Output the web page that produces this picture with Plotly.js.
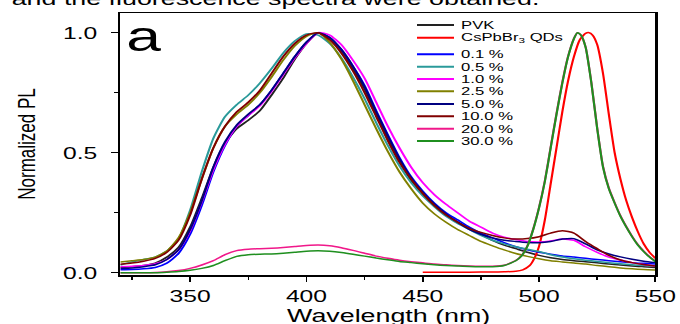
<!DOCTYPE html>
<html>
<head>
<meta charset="utf-8">
<script src="https://cdn.plot.ly/plotly-3.0.1.min.js"></script>
<style>
  html, body { margin: 0; padding: 0; background: #fff; overflow: hidden; }
  #wrap { width: 680px; height: 324px; overflow: hidden; }
  #plot { width: 469px; height: 324px; transform: scaleX(1.4499); transform-origin: 0 0; }
</style>
</head>
<body>
<div id="wrap"><div id="plot"></div></div>
<script>
// ---------------- data ----------------
const wl = [320,325,330,335,340,345,350,355,360,365,370,375,380,385,390,395,400,405,410,415,420,425,430,435,440,445,450,455,460,465,470,475,480,485,490,495,500,505,510,515,520,525,530,535,540,545,550];

const pvk   = [0.022,0.025,0.030,0.040,0.065,0.105,0.190,0.310,0.440,0.540,0.600,0.635,0.675,0.740,0.810,0.890,0.955,1.000,0.975,0.925,0.850,0.765,0.660,0.555,0.465,0.385,0.330,0.280,0.240,0.212,0.185,0.160,0.135,0.115,0.100,0.085,0.072,0.062,0.055,0.050,0.046,0.041,0.036,0.032,0.028,0.025,0.022];
const p01   = [0.012,0.013,0.016,0.022,0.040,0.080,0.160,0.280,0.420,0.530,0.610,0.655,0.700,0.760,0.830,0.900,0.960,1.000,0.980,0.930,0.860,0.780,0.675,0.575,0.480,0.400,0.340,0.290,0.250,0.220,0.190,0.165,0.145,0.125,0.108,0.095,0.085,0.077,0.070,0.065,0.060,0.055,0.050,0.046,0.042,0.039,0.036];
const p05   = [0.032,0.045,0.055,0.065,0.090,0.140,0.260,0.420,0.560,0.650,0.700,0.740,0.790,0.850,0.915,0.965,0.995,0.990,0.955,0.895,0.815,0.725,0.625,0.530,0.445,0.375,0.320,0.275,0.235,0.205,0.180,0.155,0.135,0.120,0.108,0.098,0.088,0.075,0.065,0.058,0.052,0.047,0.042,0.037,0.033,0.030,0.028];
const p10   = [0.025,0.027,0.030,0.037,0.055,0.095,0.175,0.295,0.430,0.535,0.610,0.655,0.695,0.755,0.825,0.895,0.955,1.000,0.990,0.950,0.885,0.810,0.710,0.610,0.520,0.440,0.375,0.325,0.285,0.250,0.215,0.190,0.165,0.148,0.138,0.130,0.128,0.132,0.140,0.135,0.108,0.085,0.065,0.053,0.042,0.034,0.028];
const p25   = [0.045,0.050,0.055,0.065,0.090,0.145,0.250,0.390,0.520,0.610,0.660,0.700,0.750,0.815,0.885,0.945,0.985,1.000,0.960,0.890,0.800,0.700,0.600,0.505,0.420,0.350,0.290,0.245,0.210,0.180,0.155,0.130,0.112,0.095,0.080,0.068,0.058,0.050,0.045,0.040,0.036,0.030,0.025,0.020,0.016,0.013,0.011];
const p50   = [0.018,0.020,0.025,0.033,0.055,0.095,0.180,0.300,0.440,0.545,0.615,0.660,0.700,0.760,0.830,0.900,0.960,1.000,0.980,0.930,0.860,0.775,0.670,0.570,0.475,0.395,0.335,0.285,0.245,0.210,0.180,0.160,0.145,0.135,0.130,0.126,0.125,0.130,0.140,0.142,0.120,0.095,0.078,0.066,0.056,0.048,0.042];
const p100  = [0.035,0.040,0.048,0.060,0.085,0.135,0.240,0.390,0.520,0.610,0.670,0.710,0.760,0.830,0.900,0.955,0.990,1.000,0.970,0.915,0.840,0.750,0.650,0.550,0.460,0.390,0.330,0.280,0.240,0.210,0.185,0.168,0.155,0.145,0.140,0.142,0.150,0.165,0.175,0.165,0.130,0.100,0.072,0.053,0.042,0.034,0.028];

const wlQD = [320,325,330,335,340,345,350,355,360,365,370,375,380,385,390,395,400,405,410,415,420,425,430,435,440,445,450,455,460,465,470,475,480,485,490,492.5,495,497.5,500,502.5,505,507.5,510,512.5,515,516.5,518,520,522.5,525,527.5,530,532.5,535,537.5,540,542.5,545,547.5,550];
const p200  = [0.000,0.000,0.000,0.001,0.004,0.009,0.018,0.032,0.050,0.075,0.092,0.098,0.100,0.102,0.105,0.109,0.113,0.115,0.112,0.104,0.093,0.081,0.069,0.060,0.052,0.046,0.041,0.036,0.033,0.030,0.028,0.027,0.027,0.031,0.051,0.071,0.112,0.182,0.272,0.383,0.523,0.663,0.793,0.902,0.976,1.000,0.990,0.941,0.792,0.603,0.443,0.353,0.292,0.237,0.192,0.152,0.117,0.090,0.067,0.048];
const p300  = [0.000,0.000,0.000,0.000,0.002,0.005,0.010,0.018,0.030,0.050,0.068,0.075,0.077,0.078,0.081,0.085,0.089,0.091,0.089,0.084,0.077,0.069,0.061,0.054,0.047,0.042,0.037,0.033,0.030,0.028,0.026,0.025,0.025,0.030,0.050,0.070,0.110,0.180,0.270,0.380,0.520,0.660,0.790,0.900,0.975,1.000,0.990,0.940,0.790,0.600,0.440,0.350,0.290,0.235,0.190,0.150,0.115,0.088,0.065,0.046];

const wlRed = [450,460,470,480,485,490,493,496,498,500,502.5,505,507.5,510,512.5,515,517.5,520,521.5,523,525,527.5,530,532.5,535,537.5,540,542.5,545,547.5,550];
const qds   = [0.002,0.002,0.002,0.003,0.004,0.006,0.012,0.030,0.060,0.110,0.220,0.370,0.520,0.670,0.800,0.900,0.970,0.997,1.000,0.990,0.950,0.830,0.660,0.500,0.390,0.300,0.230,0.170,0.120,0.085,0.060];

const seriesNames = ['PVK','CsPbBr<sub>3</sub> QDs','0.1 %','0.5 %','1.0 %','2.5 %','5.0 %','10.0 %','20.0 %','30.0 %'];
const seriesX = [wl, wlRed, wl, wl, wl, wl, wl, wl, wlQD, wlQD];
const seriesY = [pvk, qds, p01, p05, p10, p25, p50, p100, p200, p300];
const seriesColors = ['#222222','#ff0000','#0000ff','#2a9a9a','#ff00ff','#808000','#000080','#800000','#f0188a','#1f8f1f'];

const xTitle = 'Wavelength (nm)';
const yTitle = 'Normalized PL';
const panelLabel = 'a';
const topText = 'and the fluorescence spectra were obtained.';

// ---------------- layout helpers ----------------
const S = 680 / 469;            // horizontal stretch of the page
const W = 469, H = 324;
const M = {l: 83, r: 17, t: 13, b: 49};
const PW = W - M.l - M.r, PH = H - M.t - M.b;
const FONT = '"Liberation Sans", Arial, sans-serif';
function px(xOrig) { return (xOrig / S - M.l) / PW; }  // reference pixel x -> paper
function py(yOrig) { return (H - M.b - yOrig) / PH; }  // reference pixel y -> paper

const traces = seriesY.map((ys, i) => ({
  type: 'scatter', mode: 'lines',
  x: seriesX[i], y: ys,
  name: seriesNames[i],
  line: {color: seriesColors[i], width: 1.5, shape: 'spline', smoothing: 0.6},
  showlegend: false, hoverinfo: 'skip'
}));

// manual compact legend
const legendRows = [25, 37.7, 54.3, 66.7, 79, 91.3, 104, 116.3, 128.7, 141];
const shapes = [], annotations = [];
seriesNames.forEach((n, i) => {
  shapes.push({type: 'line', xref: 'paper', yref: 'paper',
    x0: px(417), x1: px(454), y0: py(legendRows[i]), y1: py(legendRows[i]),
    line: {color: seriesColors[i], width: 2}});
  annotations.push({xref: 'paper', yref: 'paper', x: px(458), y: py(legendRows[i]),
    xanchor: 'left', yanchor: 'middle', showarrow: false, text: n,
    font: {family: FONT, size: 11.5, color: '#000'}});
});
annotations.push({xref: 'paper', yref: 'paper', x: px(144), y: py(36), xanchor: 'center', yanchor: 'middle',
  showarrow: false, text: panelLabel, font: {family: FONT, size: 43, color: '#000'}});
annotations.push({xref: 'paper', yref: 'paper', x: px(8), y: py(-1.5), xanchor: 'left', yanchor: 'middle',
  showarrow: false, text: topText, font: {family: FONT, size: 18.5, color: '#000'}});
// x-axis title (placed like the reference, its descenders at the picture edge)
annotations.push({xref: 'paper', yref: 'paper', x: px(389), y: py(315.3), xanchor: 'center', yanchor: 'middle',
  showarrow: false, text: xTitle, font: {family: FONT, size: 18.5, color: '#000'}});

const axisCommon = {
  showline: true, linecolor: '#000', linewidth: 1.5, mirror: true,
  ticks: 'outside', ticklen: 5, tickwidth: 1.2, tickcolor: '#000',
  showgrid: false, zeroline: false,
  tickfont: {family: FONT, size: 17, color: '#000'}
};

const layout = {
  width: W, height: H,
  margin: M,
  paper_bgcolor: '#fff', plot_bgcolor: '#fff',
  showlegend: false,
  xaxis: Object.assign({}, axisCommon, {
    range: [320, 550], tick0: 0, dtick: 50,
    minor: {dtick: 25, ticks: 'outside', ticklen: 3, tickwidth: 1, tickcolor: '#000'},
    ticklabelstandoff: 0
  }),
  yaxis: Object.assign({}, axisCommon, {
    range: [-0.0096, 1.082], tick0: 0, dtick: 0.5, tickformat: '.1f',
    minor: {dtick: 0.25, ticks: 'outside', ticklen: 3, tickwidth: 1, tickcolor: '#000'},
    ticklabelstandoff: 6,
    title: {text: yTitle, font: {family: FONT, size: 17, color: '#000'}, standoff: 14}
  }),
  shapes: shapes,
  annotations: annotations
};

Plotly.newPlot('plot', traces, layout, {staticPlot: true, displayModeBar: false});
</script>
</body>
</html>
